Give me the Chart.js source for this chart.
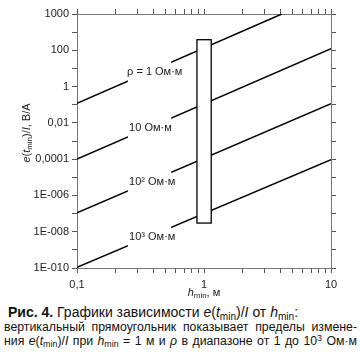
<!DOCTYPE html>
<html><head><meta charset="utf-8">
<script src="https://cdn.jsdelivr.net/npm/chart.js@4/dist/chart.umd.min.js"></script>
<style>
html,body{margin:0;padding:0;background:#fff}
body{width:360px;height:357px;overflow:hidden;position:relative;font-family:"Liberation Sans",Arial,sans-serif;color:#111}
#c{position:absolute;left:0;top:0}
#cap{position:absolute;left:4px;top:305px;width:353px}
.l1{font-size:14px;line-height:15px;white-space:nowrap;margin-left:4px}
.l2{font-size:12.3px;line-height:14px;white-space:nowrap;text-align:justify;text-align-last:justify}
sub{font-size:72%;vertical-align:-0.25em;line-height:0}
sup{font-size:72%;vertical-align:0.45em;line-height:0}
i{font-style:italic}
</style></head>
<body>
<canvas id="c" width="360" height="300"></canvas>
<div id="cap">
<div class="l1"><b>Рис. 4.</b> Графики зависимости <i>e</i>(<i>t</i><sub>min</sub>)/<i>I</i> от <i>h</i><sub>min</sub>:</div>
<div class="l2">вертикальный прямоугольник показывает пределы измене-</div>
<div class="l2">ния <i>e</i>(<i>t</i><sub>min</sub>)/<i>I</i> при <i>h</i><sub>min</sub> = 1 м и <i>ρ</i> в диапазоне от 1 до 10<sup>3</sup> Ом·м</div>
</div>
<script>
// ---- data ----
const seriesLabels = ['ρ = 1 Ом·м', '10 Ом·м', '10² Ом·м', '10³ Ом·м'];
const hRho1 = [0.1, 4.1];
const eRho1 = [0.12, 1e4];
const hRho10 = [0.1, 10];
const eRho10 = [1.0e-4, 123];
const hRho100 = [0.1, 10];
const eRho100 = [1.1e-7, 0.114];
const hRho1000 = [0.1, 10];
const eRho1000 = [1.1e-10, 9.3e-5];
// vertical rectangle at h = 1 m
const rectH = [0.88, 1.14];
const rectE = [3.0e-8, 383];
// tick labels
const xTickValues = [0.1, 1, 10];
const xTickLabels = ['0,1', '1', '10'];
const yTickValues = [1e4, 1e2, 1, 1e-2, 1e-4, 1e-6, 1e-8, 1e-10];
const yTickLabels = ['1000', '100', '1', '0,01', '0,0001', '1E-006', '1E-008', '1E-010'];

// ---- layout / style ----
const labelGap = [0.248, 0.56]; // h-range where series labels sit
const FONT = '"Liberation Sans", Arial, sans-serif';
const AX = '#555';

function pts(h, e){ return h.map((v,i)=>({x:v, y:e[i]})); }
function near(a,b){ return Math.abs(Math.log10(a)-Math.log10(b))<1e-6; }
const xMinor = []; for (let d=-1; d<1; d++) for (let k=1; k<10; k++) xMinor.push(k*Math.pow(10,d)); xMinor.push(10);
const yDecades = []; for (let p=-10; p<=4; p++) yDecades.push(Math.pow(10,p));

const seriesData = [pts(hRho1,eRho1), pts(hRho10,eRho10), pts(hRho100,eRho100), pts(hRho1000,eRho1000)];

function axis(pos, tickVals, labVals, labTexts, size){
  const horiz = pos==='bottom'||pos==='top';
  return {
    type:'logarithmic', position:pos,
    min: horiz?0.1:1e-10, max: horiz?10:1e4,
    afterBuildTicks: s => { s.ticks = tickVals.map(v=>({value:v})); },
    afterFit: s => { if (horiz) s.height = size; else s.width = size; },
    ticks:{ autoSkip:false, maxRotation:0, minRotation:0, padding: horiz?5:3,
      color:'#222', font:{family:FONT, size:11},
      callback: v => { const i = labVals.findIndex(t=>near(t,v)); return i>=0 ? labTexts[i] : ' '; } },
    grid:{ drawOnChartArea:false, drawTicks:true, tickLength:5, color:AX, lineWidth:1 },
    border:{ display:true, color:'#777', width:1 }
  };
}

function rich(ctx, segs, x, y, size){
  let w = 0;
  const fonts = segs.map(s=>{
    const f = (s.it?'italic ':'') + (s.b?'bold ':'') + (s.sub? size*0.72 : size) + 'px ' + FONT;
    ctx.font = f; const m = ctx.measureText(s.t).width; w += m; return {f, m};
  });
  let cx = x - w/2;
  ctx.textBaseline = 'middle'; ctx.textAlign = 'left';
  segs.forEach((s,i)=>{ ctx.font = fonts[i].f; ctx.fillText(s.t, cx, y + (s.sub? size*0.3 : 0)); cx += fonts[i].m; });
}

const overlay = {
  id:'overlay',
  afterDatasetsDraw(chart){
    const ctx = chart.ctx, xs = chart.scales.x, ys = chart.scales.y;
    ctx.save();
    // rectangle
    const rx0 = xs.getPixelForValue(rectH[0]), rx1 = xs.getPixelForValue(rectH[1]);
    const ry0 = ys.getPixelForValue(rectE[1]), ry1 = ys.getPixelForValue(rectE[0]);
    ctx.fillStyle = '#fff'; ctx.fillRect(rx0, ry0, rx1-rx0, ry1-ry0);
    ctx.strokeStyle = '#000'; ctx.lineWidth = 1.3; ctx.strokeRect(rx0, ry0, rx1-rx0, ry1-ry0);
    // series labels
    seriesData.forEach((d,i)=>{
      const p0 = {x:xs.getPixelForValue(d[0].x), y:ys.getPixelForValue(d[0].y)};
      const p1 = {x:xs.getPixelForValue(d[1].x), y:ys.getPixelForValue(d[1].y)};
      const slope = (p1.y-p0.y)/(p1.x-p0.x);
      const gx0 = xs.getPixelForValue(labelGap[0]), gx1 = xs.getPixelForValue(labelGap[1]);
      const gy0 = p0.y + slope*(gx0-p0.x), gy1 = p0.y + slope*(gx1-p0.x);
      ctx.fillStyle = '#fff';
      ctx.fillRect(gx0+0.8, Math.min(gy0,gy1)-2, gx1-gx0-1.6, Math.abs(gy1-gy0)+4);
      ctx.fillStyle = '#1a1a1a'; ctx.font = '11px ' + FONT; ctx.textBaseline='middle'; ctx.textAlign='left';
      ctx.fillText(seriesLabels[i], gx0 + (i===0?0:2), (gy0+gy1)/2);
    });
    // axis titles
    ctx.fillStyle = '#1a1a1a';
    rich(ctx, [{t:'h',it:true},{t:'min',sub:true},{t:', м'}], xs.getPixelForValue(1), 293, 11);
    ctx.translate(27, 133); ctx.rotate(-Math.PI/2);
    rich(ctx, [{t:'e',it:true},{t:'('},{t:'t',it:true},{t:'min',sub:true},{t:')/'},{t:'I',it:true},{t:', B/A'}], 0, 0, 11);
    ctx.restore();
  }
};

new Chart(document.getElementById('c'), {
  type:'scatter',
  data:{ datasets: seriesData.map((d,i)=>({ label:seriesLabels[i], data:d, showLine:true, borderColor:'#000', borderWidth:1.5, pointRadius:0, fill:false })) },
  options:{
    responsive:false, animation:false, devicePixelRatio:1,
    layout:{ padding:0 },
    plugins:{ legend:{display:false}, tooltip:{enabled:false} },
    scales:{
      x: axis('bottom', xMinor, xTickValues, xTickLabels, 32),
      x2: axis('top', xMinor, [], [], 14),
      y: axis('left', yDecades, yTickValues, yTickLabels, 77),
      y2: axis('right', yDecades, [], [], 29)
    }
  },
  plugins:[overlay]
});
</script>
</body></html>
